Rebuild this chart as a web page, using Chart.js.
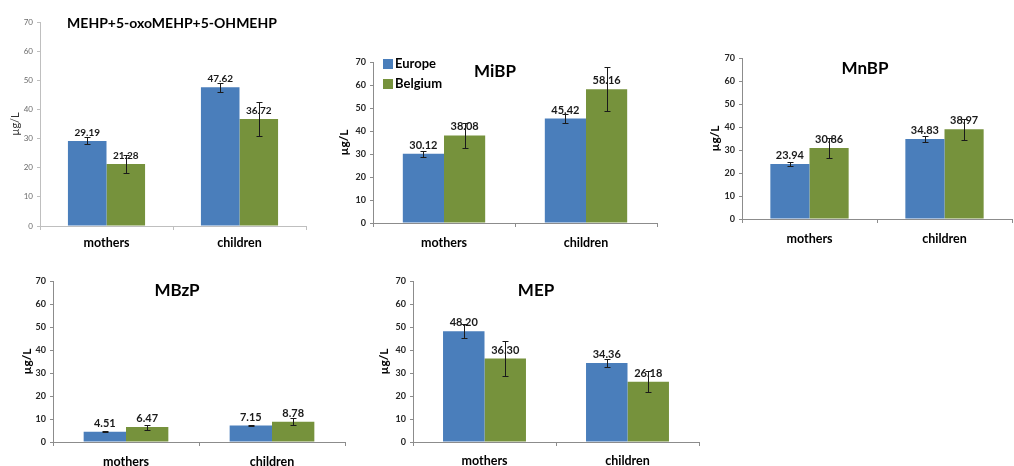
<!DOCTYPE html>
<html>
<head>
<meta charset="utf-8">
<script src="https://cdn.jsdelivr.net/npm/chart.js@4"></script>
<style>
  html, body { margin: 0; padding: 0; background: #ffffff; overflow: hidden; }
  body { width: 1014px; height: 466px; position: relative; }
  canvas { position: absolute; }
</style>
</head>
<body>
<script>
// Chart data
const categories = ['mothers', 'children'];
const seriesNames = ['Europe', 'Belgium'];
const panelTitles = ['MEHP+5-oxoMEHP+5-OHMEHP', 'MiBP', 'MnBP', 'MBzP', 'MEP'];
const yTicks = [0, 10, 20, 30, 40, 50, 60, 70];

const mehpEurope = [29.19, 47.62];
const mehpBelgium = [21.28, 36.72];
const mehpEuropeErr = [1.2, 1.6];
const mehpBelgiumErr = [3.0, 5.7];

const mibpEurope = [30.12, 45.42];
const mibpBelgium = [38.08, 58.16];
const mibpEuropeErr = [1.4, 1.9];
const mibpBelgiumErr = [5.5, 9.5];

const mnbpEurope = [23.94, 34.83];
const mnbpBelgium = [30.86, 38.97];
const mnbpEuropeErr = [0.7, 1.4];
const mnbpBelgiumErr = [4.2, 4.5];

const mbzpEurope = [4.51, 7.15];
const mbzpBelgium = [6.47, 8.78];
const mbzpEuropeErr = [0.3, 0.3];
const mbzpBelgiumErr = [1.1, 1.5];

const mepEurope = [48.20, 34.36];
const mepBelgium = [36.30, 26.18];
const mepEuropeErr = [3.0, 1.7];
const mepBelgiumErr = [7.6, 4.6];

const BLUE = '#4a7ebb';
const GREEN = '#76923c';
const FONT = 'Lato, "Open Sans", sans-serif';

// page placement of each small chart (plot area in page pixels)
const panels = [
  { europe: mehpEurope, belgium: mehpBelgium, eErr: mehpEuropeErr, bErr: mehpBelgiumErr,
    ax: 40, top: 22, bottom: 226, right: 306, catPad: 5, light: true,
    titleX: 172, titleY: 23, titleSize: 14, labelX: 15, legend: false },
  { europe: mibpEurope, belgium: mibpBelgium, eErr: mibpEuropeErr, bErr: mibpBelgiumErr,
    ax: 373, top: 62, bottom: 223, right: 657, catPad: 8, light: false,
    titleX: 495, titleY: 72, titleSize: 17, labelX: 344, legend: true },
  { europe: mnbpEurope, belgium: mnbpBelgium, eErr: mnbpEuropeErr, bErr: mnbpBelgiumErr,
    ax: 742, top: 58, bottom: 219, right: 1012, catPad: 8, light: false,
    titleX: 865, titleY: 69, titleSize: 17, labelX: 715, legend: false },
  { europe: mbzpEurope, belgium: mbzpBelgium, eErr: mbzpEuropeErr, bErr: mbzpBelgiumErr,
    ax: 53, top: 281, bottom: 442, right: 345, catPad: 8, light: false,
    titleX: 177, titleY: 291, titleSize: 17, labelX: 27, legend: false },
  { europe: mepEurope, belgium: mepBelgium, eErr: mepEuropeErr, bErr: mepBelgiumErr,
    ax: 413, top: 281, bottom: 442, right: 699, catPad: 7, light: false,
    titleX: 536, titleY: 291, titleSize: 17, labelX: 384, legend: false }
];

const Y_W = 45;      // fixed y-axis box width
const X_H = 35;      // fixed x-axis box height
const PAD_TOP = 30;
const PAD_RIGHT = 6;

// error bars, value labels, titles, axis label and legend
const panelDecor = {
  id: 'panelDecor',
  afterDatasetsDraw(chart, args, opts) {
    const ctx = chart.ctx;
    const y = chart.scales.y;
    ctx.save();
    ctx.fillStyle = '#1a1a1a';
    ctx.font = 'bold ' + opts.valueSize + 'px ' + FONT;
    ctx.textAlign = 'center';
    ctx.textBaseline = 'bottom';
    chart.data.datasets.forEach((ds, i) => {
      chart.getDatasetMeta(i).data.forEach((bar, j) => {
        ctx.fillText(ds.data[j].toFixed(2), bar.x, bar.y - 3);
      });
    });
    ctx.strokeStyle = '#1a1a1a';
    ctx.lineWidth = 1;
    chart.data.datasets.forEach((ds, i) => {
      chart.getDatasetMeta(i).data.forEach((bar, j) => {
        const hi = Math.round(y.getPixelForValue(ds.data[j] + ds.errors[j])) + 0.5;
        const lo = Math.round(y.getPixelForValue(ds.data[j] - ds.errors[j])) + 0.5;
        const x = Math.round(bar.x) + 0.5;
        ctx.beginPath();
        ctx.moveTo(x, hi); ctx.lineTo(x, lo);
        ctx.moveTo(x - 3, hi); ctx.lineTo(x + 3, hi);
        ctx.moveTo(x - 3, lo); ctx.lineTo(x + 3, lo);
        ctx.stroke();
      });
    });
    ctx.restore();
  },
  afterDraw(chart, args, opts) {
    const ctx = chart.ctx;
    const area = chart.chartArea;
    ctx.save();
    ctx.fillStyle = '#000000';
    ctx.font = 'bold ' + opts.titleSize + 'px ' + FONT;
    ctx.textAlign = 'center';
    ctx.textBaseline = 'middle';
    ctx.fillText(opts.title, opts.titleX - opts.left, opts.titleY - opts.top);

    ctx.save();
    ctx.translate(opts.labelX - opts.left, (area.top + area.bottom) / 2);
    ctx.rotate(-Math.PI / 2);
    ctx.font = (opts.light ? '' : 'bold ') + (opts.light ? 11 : 12) + 'px ' + FONT;
    ctx.fillStyle = opts.light ? '#333333' : '#000000';
    ctx.fillText('µg/L', 0, 0);
    ctx.restore();

    if (opts.legend) {
      ctx.font = 'bold 13px ' + FONT;
      ctx.textAlign = 'left';
      chart.data.datasets.forEach((ds, i) => {
        const cy = area.top + 2 + i * 20;
        ctx.fillStyle = ds.backgroundColor;
        ctx.fillRect(area.left + 10, cy - 5, 10, 10);
        ctx.fillStyle = '#000000';
        ctx.fillText(ds.label, area.left + 22, cy);
      });
    }
    ctx.restore();
  }
};

panels.forEach((p, k) => {
  const canvas = document.createElement('canvas');
  const left = p.ax - Y_W;
  const top = p.top - PAD_TOP;
  const w = p.right - p.ax + Y_W + PAD_RIGHT;
  const h = p.bottom - p.top + PAD_TOP + X_H;
  canvas.width = w;
  canvas.height = h;
  canvas.style.left = left + 'px';
  canvas.style.top = top + 'px';
  canvas.style.width = w + 'px';
  canvas.style.height = h + 'px';
  document.body.appendChild(canvas);

  const axisColor = p.light ? '#bfbfbf' : '#8c8c8c';
  const tickColor = p.light ? '#6b6b6b' : '#262626';

  new Chart(canvas.getContext('2d'), {
    type: 'bar',
    data: {
      labels: categories,
      datasets: [
        { label: seriesNames[0], data: p.europe, errors: p.eErr, backgroundColor: BLUE,
          barPercentage: 1, categoryPercentage: 0.58 },
        { label: seriesNames[1], data: p.belgium, errors: p.bErr, backgroundColor: GREEN,
          barPercentage: 1, categoryPercentage: 0.58 }
      ]
    },
    options: {
      responsive: false,
      animation: false,
      devicePixelRatio: 1,
      layout: { padding: { top: PAD_TOP, right: PAD_RIGHT, left: 0, bottom: 0 } },
      plugins: {
        legend: { display: false },
        tooltip: { enabled: false },
        panelDecor: {
          title: panelTitles[k], titleX: p.titleX, titleY: p.titleY, titleSize: p.titleSize,
          labelX: p.labelX, left: left, top: top, light: p.light, legend: p.legend,
          valueSize: p.light ? 10 : 11
        }
      },
      scales: {
        x: {
          offset: true,
          afterFit(scale) { scale.height = X_H; },
          border: { color: axisColor, width: 1 },
          grid: { offset: true, drawOnChartArea: false, tickLength: 4, color: axisColor },
          ticks: {
            color: '#000000',
            padding: p.catPad,
            font: { family: FONT, size: 12.5, weight: 'bold' }
          }
        },
        y: {
          min: 0,
          max: 70,
          afterFit(scale) { scale.width = Y_W; },
          afterBuildTicks(scale) { scale.ticks = yTicks.map(v => ({ value: v })); },
          border: { color: axisColor, width: 1 },
          grid: { drawOnChartArea: false, tickLength: 3, color: axisColor },
          ticks: {
            color: tickColor,
            padding: 4,
            font: { family: FONT, size: p.light ? 8 : 9, weight: p.light ? 'normal' : 'bold' }
          }
        }
      }
    },
    plugins: [panelDecor]
  });
});
</script>
</body>
</html>
